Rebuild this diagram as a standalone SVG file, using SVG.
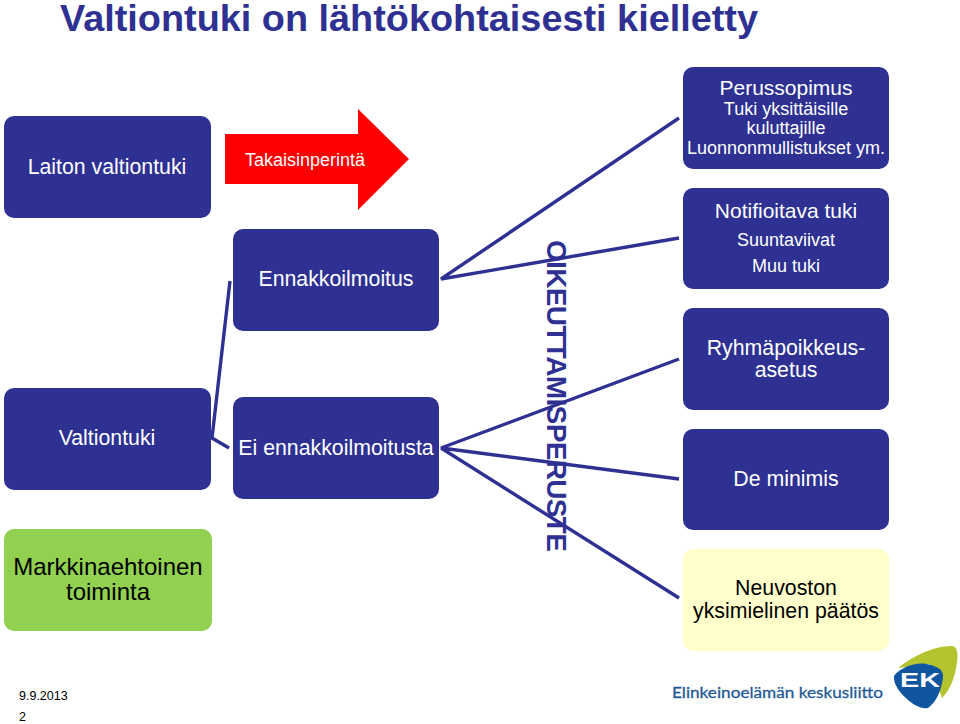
<svg xmlns="http://www.w3.org/2000/svg" width="960" height="724" viewBox="0 0 960 724">
<style>
text{font-family:"Liberation Sans",Arial,sans-serif;text-anchor:middle}
.b{fill:#2E3192}.w{fill:#fff}.k{fill:#000}
.c{stroke:#2E3192;stroke-width:3.4;fill:none}
.f22{font-size:21.3px}.f18{font-size:18px}
</style>
<rect width="960" height="724" fill="#fff"/>
<text x="60" y="31" font-size="37" font-weight="bold" fill="#2E3192" style="text-anchor:start" textLength="698" lengthAdjust="spacingAndGlyphs">Valtiontuki on lähtökohtaisesti kielletty</text>
<g id="connectors">
<path class="c" d="M230 281L212 438L229 448"/>
<path class="c" d="M679 118L441 279L679 238"/>
<path class="c" d="M679 359L441 448L679 479M441 448L679 598"/>
</g>
<g id="laiton"><rect class="b" x="4" y="116" width="207" height="102" rx="10"/><text class="w f22" x="107" y="174">Laiton valtiontuki</text></g>
<g id="takaisinperinta"><path fill="#f00" d="M225 134H358V109L409 159L358 210V184H225Z"/><text x="305" y="166" font-size="18" fill="#fff">Takaisinperintä</text></g>
<g id="ennakkoilmoitus"><rect class="b" x="233" y="229" width="206" height="102" rx="10"/><text class="w f22" x="336" y="286">Ennakkoilmoitus</text></g>
<g id="ei-ennakkoilmoitusta"><rect class="b" x="233" y="397" width="206" height="102" rx="10"/><text class="w f22" x="336" y="455">Ei ennakkoilmoitusta</text></g>
<g id="valtiontuki"><rect class="b" x="4" y="388" width="207" height="102" rx="10"/><text class="w f22" x="107" y="445">Valtiontuki</text></g>
<g id="markkinaehtoinen"><rect fill="#92D050" x="4" y="529" width="208" height="102" rx="10"/><text class="k" font-size="24" x="108" y="575">Markkinaehtoinen</text><text class="k" font-size="24" x="108" y="600">toiminta</text></g>
<g id="oikeuttamisperuste"><text transform="translate(547 240) rotate(90)" font-size="28" font-weight="bold" fill="#2E3192" style="text-anchor:start" textLength="312" lengthAdjust="spacing">OIKEUTTAMISPERUSTE</text></g>
<g id="perussopimus"><rect class="b" x="683" y="67" width="206" height="102" rx="10"/><text class="w" font-size="21" x="786" y="95">Perussopimus</text><text class="w f18" x="786" y="115">Tuki yksittäisille</text><text class="w f18" x="786" y="134">kuluttajille</text><text class="w f18" x="786" y="154">Luonnonmullistukset ym.</text></g>
<g id="notifioitava"><rect class="b" x="683" y="188" width="206" height="101" rx="10"/><text class="w" font-size="21" x="786" y="218">Notifioitava tuki</text><text class="w f18" x="786" y="246">Suuntaviivat</text><text class="w f18" x="786" y="272">Muu tuki</text></g>
<g id="ryhmapoikkeus"><rect class="b" x="683" y="308" width="206" height="102" rx="10"/><text class="w f22" x="786" y="355">Ryhmäpoikkeus-</text><text class="w f22" x="786" y="377">asetus</text></g>
<g id="de-minimis"><rect class="b" x="683" y="429" width="206" height="101" rx="10"/><text class="w f22" x="786" y="486">De minimis</text></g>
<g id="neuvoston"><rect fill="#FFFFCC" x="683" y="549" width="206" height="102" rx="10"/><text class="k f22" x="786" y="595">Neuvoston</text><text class="k f22" x="786" y="618">yksimielinen päätös</text></g>
<text x="19" y="700" font-size="12.5" class="k" style="text-anchor:start">9.9.2013</text>
<text x="19" y="721" font-size="12.5" class="k" style="text-anchor:start">2</text>
<g id="logo">
<text x="672" y="698" font-size="15.5" fill="#1F5A96" stroke="#1F5A96" stroke-width=".3" style="text-anchor:start;font-family:Lato,'Liberation Sans',sans-serif" textLength="211" lengthAdjust="spacingAndGlyphs">Elinkeinoelämän keskusliitto</text>
<path fill="#B4C42E" d="M898 668C915 654 938 645 953 646C958 648 958 655 957 662C955 678 950 690 942 698L930 664Z"/>
<path fill="#0F559F" d="M894 676C900 668 915 662 926 664C938 666 944 670 943 678C941 692 936 702 928 708C922 709 915 706 908 700C900 693 893 684 894 676Z"/>
<text x="920" y="687" font-size="20" font-weight="bold" fill="#fff" textLength="40" lengthAdjust="spacingAndGlyphs">EK</text>
</g>
</svg>
